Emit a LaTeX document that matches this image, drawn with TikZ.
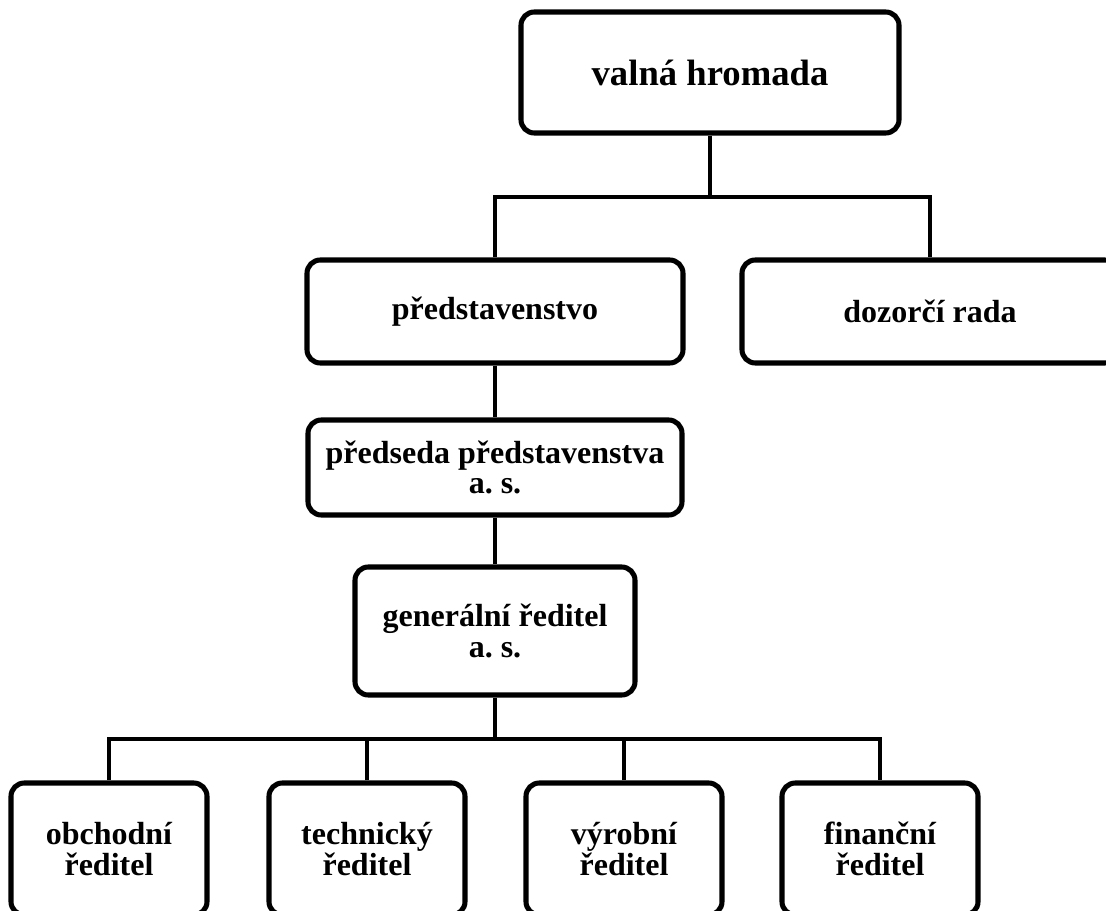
\documentclass[tikz,border=0pt]{standalone}
\usepackage{fontspec}
\setmainfont{Liberation Serif}
\frenchspacing

\begin{document}
\begin{tikzpicture}[x=0.75pt,y=-0.75pt,
		box/.style={draw,rounded corners=10pt,line width=3.8pt,align=center,inner sep=0pt,
			font=\bfseries\fontsize{24}{23}\selectfont},
		link/.style={line width=3.5pt}]
			\useasboundingbox (0,0) rectangle (1106,910);
			
			\node[box,minimum width=283.5pt,minimum height=90.75pt,
				font=\bfseries\fontsize{27.5}{30}\selectfont] (vh) at (710,72.5) {valná hromada};
			\node[box,minimum width=282pt,minimum height=77.25pt]   (pred) at (495,311.5) {představenstvo};
			\node[box,minimum width=282pt,minimum height=77.25pt]   (dr)   at (930,311.5) {dozorčí rada};
			\node[box,minimum width=280.5pt,minimum height=71.25pt] (pp)   at (495,467.5) {předseda představenstva\\a. s.};
			\node[box,minimum width=210pt,minimum height=96pt]      (gr)   at (495,631)   {generální ředitel\\a. s.};
			
			\def\reditele {or/109/obchodní, tr/367/technický, vr/624/výrobní, fr/880/finanční}  % bottom row
			\foreach \n/\x/\t in \reditele
			{	\node[box,minimum width=147pt,minimum height=99pt] (\n) at (\x,849) {\t\\ředitel};
			}
			
			\coordinate (b1) at (710,197);
			\coordinate (b2) at (495,739);
			
			\draw[link] (vh) -- (b1);
			\draw[link] (pred) |- (b1) -| (dr);
			\draw[link] (pred) -- (pp);
			\draw[link] (pp) -- (gr);
			\draw[link] (gr) -- (b2);
			\draw[link] (or) |- (b2) -| (fr);
			\foreach \n in {tr,vr}
			{	\draw[link] (\n) -- (\n |- b2);
			}
		\end{tikzpicture}
\end{document}
